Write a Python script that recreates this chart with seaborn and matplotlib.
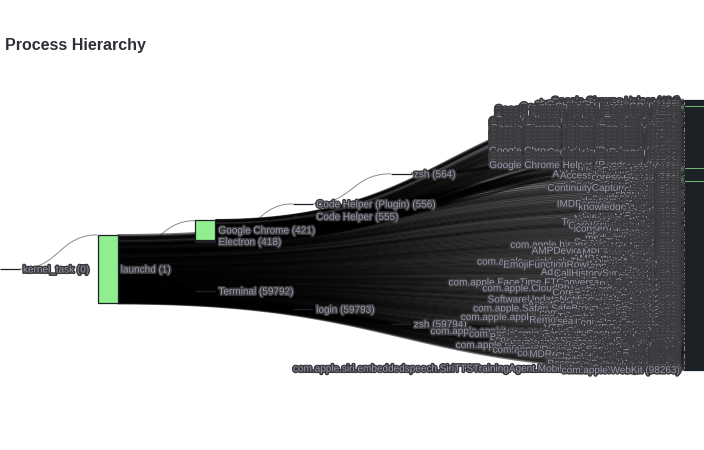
import numpy as np
import pandas as pd
import seaborn as sns
import matplotlib
matplotlib.use("Agg")
import matplotlib.pyplot as plt
import matplotlib.patheffects as pe
from matplotlib.collections import LineCollection
from matplotlib.patches import Rectangle

# ---------------------------------------------------------------------------
# Data: processes with children (they get their own column by depth)
# ---------------------------------------------------------------------------
proc_names = ["kernel_task", "launchd", "Google Chrome", "Electron", "Terminal",
              "Code Helper (Plugin)", "Code Helper", "login", "zsh", "zsh"]
proc_pids = [0, 1, 421, 418, 59792, 556, 555, 59793, 564, 59794]
proc_ppids = [-1, 0, 1, 1, 1, 418, 418, 59792, 556, 59793]
proc_cpu = [0, 35, 55, 40, 12, 9, 6, 1, 2, 1]

# Leaf processes, listed in the order they stack in the last column
chrome_a_names = ["Google Chrome Helper", "Google Chrome Helper", "chrome_crashpad_handler",
                  "Google Chrome Helper", "Google Chrome Helper (GPU)"]
chrome_a_pids = [434, 436, 428, 1187, 433]
chrome_a_cpu = [32, 13, 2, 6, 95]

renderer_a_pids = [1203, 1342, 2210, 3318, 4521, 5102, 7730, 8812, 12044, 15530,
                   21873, 27015, 33210, 40118]
renderer_a_cpu = [64, 18, 32, 12, 25, 8, 48, 16, 14, 21, 10, 40, 17, 6]

zsh_leaf_names = ["node"]
zsh_leaf_pids = [612]
zsh_leaf_cpu = [3]

renderer_b_pids = [45602, 51874, 56230, 61409, 66821, 70233, 74518, 79002, 81455, 84120,
                   86677, 88309, 90141, 91788, 93025, 94410]
renderer_b_cpu = [29, 11, 15, 34, 7, 20, 12, 25, 10, 16, 30, 13, 9, 22, 15, 19]

electron_leaf_names = ["Code Helper (Renderer)", "Code Helper (GPU)"]
electron_leaf_pids = [553, 551]
electron_leaf_cpu = [30, 20]

renderer_c_pids = [95233, 96018, 96874, 97350, 97902, 98344, 98710, 99031]
renderer_c_cpu = [23, 14, 33, 11, 19, 10, 28, 42]

helper_leaf_names = ["node"]
helper_leaf_pids = [4120]
helper_leaf_cpu = [3]

agents_a_names = ["launchservicesd", "UserEventAgent", "rapportd", "AXVisualSupportAgent",
                  "AccessibilityUIServer", "corespotlightd", "cfprefsd", "hidd", "CommCenter"]
agents_a_pids = [112, 318, 517, 688, 690, 531, 499, 391, 533]
agents_a_cpu = [95, 40, 36, 14, 20, 42, 64, 58, 30]

agents_b_names = [
    "ContextStoreAgent", "Control Center", "ContinuityCaptureAgent", "cloudd", "secd",
    "trustd", "sharingd", "bird", "nsurlsessiond", "akd",
    "identityservicesd", "imagent", "IMDPersistenceAgent", "suggestd", "knowledge-agent",
    "ctkd", "tccd", "pboard", "Dock", "Finder",
    "SystemUIServer", "WindowManager", "NotificationCenter", "Spotlight", "TextInputMenuAgent",
    "universalaccessd", "coreauthd", "CoreLocationAgent", "fileproviderd", "iconservicesagent",
    "usernoted", "distnoted", "lsd", "photoanalysisd", "photolibraryd",
    "mediaanalysisd", "homed", "callservicesd", "ScreenTimeAgent", "familycircled",
    "com.apple.hiservices-xpcservice", "WiFiAgent", "bluetoothuserd", "ViewBridgeAuxiliary",
    "AMPDeviceDiscoveryAgent", "AMPLibraryAgent", "siriactionsd", "assistantd", "corespeechd",
    "AMPArtworkAgent", "studentd", "com.apple.quicklook.ThumbnailsAgent", "dmd",
    "EmojiFunctionRowIM_Extension", "appstoreagent", "commerce", "storeassetd", "ContactsAgent",
    "AddressBookSourceSync", "CallHistorySyncHelper", "remindd", "parsecd", "triald",
    "storedownloadd", "FamilyControlsAgent", "com.apple.FaceTime.FTConversationService",
    "biomesyncd", "BiomeAgent", "contactsd", "com.apple.CloudPhotosConfiguration",
    "keyboardservicesd", "chronod", "CoreServicesUIAgent", "avconferenced", "TextInputSwitcher",
    "spindump_agent", "UIKitSystem", "SoftwareUpdateNotificationManager", "CalendarAgent",
    "replayd", "AssetCacheLocatorService", "diagnostics_agent", "com.apple.geod",
    "com.apple.Safari.SafeBrowsing.Service", "ReportCrash", "swcd", "com.apple.Safari.History",
    "gamecontrolleragentd", "QuickLookUIService", "com.apple.appkit.xpc.ThumbnailExtension",
    "findmydeviced", "RemoteManagementAgent", "searchpartyuseragent", "LoginUserService",
    "talagent", "PowerChime", "locationmenu", "VTDecoderXPCService", "networkserviceproxy",
    "com.apple.appkit.xpc.openAndSavePanelService", "com.apple.CodeSigningHelper",
    "com.apple.cmio.ContinuityCaptureAgent", "Safari", "BackgroundTaskManagementAgent",
    "com.apple.audio.SandboxHelper", "com.apple.StreamingUnzipService",
    "com.apple.MTLCompilerService", "com.apple.ctcategories.service", "WorkflowKit",
    "com.apple.photos.ImageConversionService",
]
agents_b_pids = [
    610, 702, 725, 540, 546, 498, 561, 539, 552, 566,
    571, 588, 592, 605, 611, 619, 503, 623, 640, 648,
    651, 655, 660, 663, 671, 676, 680, 672, 695, 699,
    706, 712, 718, 733, 737, 748, 752, 757, 761, 766,
    814, 771, 776, 820, 783, 788, 792, 797, 803, 806,
    807, 1520, 1522, 1633, 809, 812, 818, 824, 829, 833,
    838, 842, 846, 848, 849, 1702, 851, 855, 860, 1904,
    864, 869, 1810, 873, 875, 877, 879, 2188, 741, 878,
    2290, 883, 885, 2031, 2412, 888, 2301, 893, 895, 2455,
    897, 2511, 902, 906, 911, 915, 918, 2566, 921, 2613,
    2620, 2641, 2655, 2680, 2702, 2715, 2730, 2744, 2760, 2771,
]
agents_b_cpu = [
    25, 35, 10, 22, 33, 47, 26, 38, 44, 19,
    24, 26, 15, 34, 28, 8, 21, 5, 40, 45,
    20, 30, 28, 25, 11, 17, 9, 18, 39, 23,
    27, 31, 14, 35, 22, 30, 24, 20, 16, 7,
    24, 30, 21, 20, 26, 33, 19, 40, 27, 22,
    17, 45, 14, 19, 34, 20, 23, 29, 18, 14,
    31, 38, 25, 21, 16, 23, 22, 28, 24, 15,
    17, 35, 17, 30, 18, 13, 20, 16, 50, 13,
    14, 16, 27, 36, 12, 21, 35, 15, 23, 21,
    20, 13, 18, 14, 27, 11, 16, 33, 22, 29,
    14, 17, 48, 15, 13, 12, 26, 14, 19, 17,
]

terminal_leaf_names = ["python3"]
terminal_leaf_pids = [60118]
terminal_leaf_cpu = [4]

agents_c_names = [
    "com.apple.ColorSyncXPCAgent", "mapspushd", "com.apple.DictionaryServiceHelper", "weatherd",
    "newsd", "com.apple.PerformanceTrace", "MDRemoteServiceSupport", "StocksKitService",
    "CloudKeychainProxy", "ckdiscretionaryd", "dataaccessd", "nsattributedstringagent",
    "accountsd", "com.apple.tonelibraryd", "PasswordBreachAgent", "com.apple.sbd", "maild",
    "com.apple.iCloudHelper",
    "com.apple.siri.embeddedspeech.SiriTTSTrainingAgent.MobileAssetService.xpc",
    "com.apple.WebKit",
]
agents_c_pids = [3002, 3011, 3015, 3034, 3041, 3046, 3020, 3066, 3081, 3090,
                 3102, 3057, 3110, 3072, 3118, 3125, 3131, 3140, 97755, 98263]
agents_c_cpu = [6, 8, 5, 11, 9, 4, 6, 4, 7, 12,
                18, 5, 26, 3, 4, 6, 30, 8, 9, 40]


def group(names, pids, ppid, cpu):
    if isinstance(names, str):
        names = [names] * len(pids)
    return pd.DataFrame({"name": names, "pid": pids, "ppid": ppid, "cpu": cpu})


RENDERER = "Google Chrome Helper (Renderer)"
df = pd.concat([
    group(proc_names, proc_pids, proc_ppids, proc_cpu),
    group(chrome_a_names, chrome_a_pids, 421, chrome_a_cpu),
    group(RENDERER, renderer_a_pids, 421, renderer_a_cpu),
    group(zsh_leaf_names, zsh_leaf_pids, 564, zsh_leaf_cpu),
    group(RENDERER, renderer_b_pids, 421, renderer_b_cpu),
    group(electron_leaf_names, electron_leaf_pids, 418, electron_leaf_cpu),
    group(RENDERER, renderer_c_pids, 421, renderer_c_cpu),
    group(helper_leaf_names, helper_leaf_pids, 555, helper_leaf_cpu),
    group(agents_a_names, agents_a_pids, 1, agents_a_cpu),
    group(agents_b_names, agents_b_pids, 1, agents_b_cpu),
    group(terminal_leaf_names, terminal_leaf_pids, 59794, terminal_leaf_cpu),
    group(agents_c_names, agents_c_pids, 1, agents_c_cpu),
], ignore_index=True)

# ---------------------------------------------------------------------------
# Sankey-style layout (justified: leaves go to the last column)
# ---------------------------------------------------------------------------
W, H, DPI = 704, 450, 100
NODE_W = 20
N_COLS = 8
LAST = N_COLS - 1
COL_STEP = (W - NODE_W) / LAST
EXT_TOP, EXT_BOT = 100, 370
NODE_PAD = 0.98
TRUNK_Y = 269

pids = list(df.pid)
name = dict(zip(df.pid, df.name))
ppid = dict(zip(df.pid, df.ppid))
cpu = dict(zip(df.pid, df.cpu))
kids = {}
for p, pp in zip(df.pid, df.ppid):
    kids.setdefault(pp, []).append(p)

depth = {0: 0}
stack = [0]
while stack:
    p = stack.pop()
    for c in kids.get(p, []):
        depth[c] = depth[p] + 1
        stack.append(c)

is_leaf = {p: p not in kids for p in pids}
col = {p: (LAST if is_leaf[p] else depth[p]) for p in pids}
leaves = [p for p in pids if is_leaf[p]]

ky = (EXT_BOT - EXT_TOP - (len(leaves) - 1) * NODE_PAD) / sum(cpu[p] for p in leaves)
out_sum = {p: sum(cpu[c] for c in kids.get(p, [])) for p in pids}
height = {p: max(cpu[p] if p != 0 else 0, out_sum[p]) * ky for p in pids}

y0 = {}
y = EXT_TOP
for p in leaves:
    y0[p] = y
    y += height[p] + NODE_PAD


def leaf_centres(p):
    if is_leaf[p]:
        return [y0[p] + height[p] / 2]
    out = []
    for c in kids[p]:
        out += leaf_centres(c)
    return out


centre = {}
for c in range(LAST):
    col_nodes = [p for p in pids if not is_leaf[p] and col[p] == c]
    for p in col_nodes:
        if depth[p] <= 1:
            centre[p] = TRUNK_Y
        else:
            par = ppid[p]
            rem = LAST - col[par]
            target = np.mean(leaf_centres(p))
            centre[p] = centre[par] + 2 / (rem + 1) * (target - centre[par])
    col_nodes.sort(key=centre.get)
    prev = -np.inf
    for p in col_nodes:
        top = max(centre[p] - height[p] / 2, prev + NODE_PAD)
        y0[p] = top
        centre[p] = top + height[p] / 2
        prev = top + height[p]

# ---------------------------------------------------------------------------
# Links (cubic curves, like d3 sankeyLinkHorizontal)
# ---------------------------------------------------------------------------
t = np.linspace(0, 1, 60)


def link_curve(xs, ys, xt, yt):
    xm = (xs + xt) / 2
    bx = (1 - t) ** 3 * xs + 3 * (1 - t) ** 2 * t * xm + 3 * (1 - t) * t ** 2 * xm + t ** 3 * xt
    by = (1 - t) ** 3 * ys + 3 * (1 - t) ** 2 * t * ys + 3 * (1 - t) * t ** 2 * yt + t ** 3 * yt
    return np.column_stack([bx, by])


thin_segs, leaf_segs, leaf_lw = [], [], []
px = 72 / DPI
for p in pids:
    if is_leaf[p]:
        continue
    off = y0[p]
    for c in sorted(kids[p], key=lambda k: y0[k]):
        w = cpu[c] * ky
        ys = off + w / 2
        off += w
        yt = y0[c] + w / 2
        seg = link_curve(col[p] * COL_STEP + NODE_W, ys, col[c] * COL_STEP, yt)
        if is_leaf[c]:
            leaf_segs.append(seg)
            leaf_lw.append(max(3.0, w) * px)
        else:
            thin_segs.append(seg)

# ---------------------------------------------------------------------------
# Drawing
# ---------------------------------------------------------------------------
sns.set_theme(style="white")
plt.rcParams["font.family"] = ["Liberation Sans", "DejaVu Sans"]

fig = plt.figure(figsize=(W / DPI, H / DPI), dpi=DPI)
ax = fig.add_axes([0, 0, 1, 1])
ax.set_xlim(0, W)
ax.set_ylim(H, 0)
ax.axis("off")

ax.add_collection(LineCollection(thin_segs, colors="#000000", alpha=0.45,
                                 linewidths=1.0 * px, zorder=1))
ax.add_collection(LineCollection(leaf_segs, colors="#000000", alpha=0.55,
                                 linewidths=leaf_lw, zorder=2))

for p in pids:
    x0 = col[p] * COL_STEP
    ax.add_patch(Rectangle((x0, y0[p]), NODE_W, height[p], facecolor="#90ee90",
                           edgecolor="#1b2124", linewidth=0.9, zorder=3))

halo = [pe.Stroke(linewidth=2.2, foreground="#3b3b3e"), pe.Normal()]
for p in pids:
    x0 = col[p] * COL_STEP
    label = f"{name[p]} ({p})"
    yb = y0[p] + height[p] / 2 + 3.5
    if col[p] == LAST:
        ax.text(x0 - 4, yb, label, ha="right", va="baseline", fontsize=7.2,
                color="#9a9aae", path_effects=halo, zorder=4)
    else:
        ax.text(x0 + NODE_W + 3, yb, label, ha="left", va="baseline", fontsize=7.2,
                color="#9a9aae", path_effects=halo, zorder=4)

ax.text(5, 50, "Process Hierarchy", fontsize=11.5, fontweight="bold",
        color="#2e2e38", ha="left", va="baseline", zorder=5)

fig.savefig("out.png", dpi=DPI)
